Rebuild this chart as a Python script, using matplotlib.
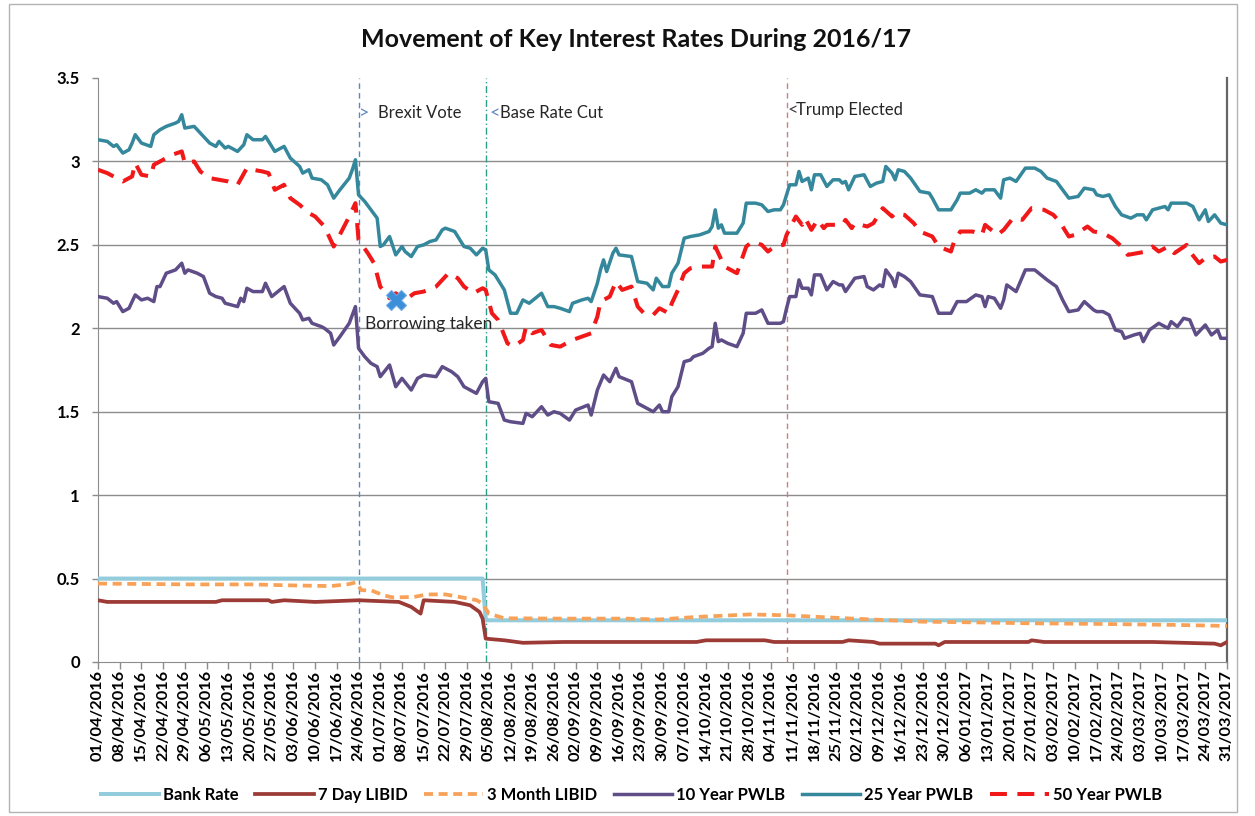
import pandas as pd
import matplotlib.pyplot as plt
import matplotlib.dates as mdates
from matplotlib.patches import Rectangle

plt.rcParams['font.family'] = ['Lato', 'DejaVu Sans']

START = pd.Timestamp('2016-04-01')
END = pd.Timestamp('2017-03-31')

# days counted from 01/04/2016
bank_days = [0, 124, 125, 364]
bank_rate = [0.5, 0.5, 0.25, 0.25]

libid7_days = [0, 3, 10, 38, 40, 45, 55, 56, 60, 70, 84, 97, 101, 104, 105, 115,
               120, 123, 124, 125, 131, 137, 150, 184, 193, 196, 215, 218, 240,
               242, 250, 252, 270, 271, 273, 300, 301, 305, 340, 360, 362, 364]
libid7 = [0.37, 0.36, 0.36, 0.36, 0.37, 0.37, 0.37, 0.36, 0.37, 0.36, 0.37, 0.36,
          0.33, 0.29, 0.37, 0.36, 0.34, 0.30, 0.26, 0.14, 0.13, 0.115, 0.12, 0.12,
          0.12, 0.13, 0.13, 0.12, 0.12, 0.13, 0.12, 0.11, 0.11, 0.10, 0.12, 0.12,
          0.13, 0.12, 0.12, 0.11, 0.10, 0.12]

libid3m_days = [0, 30, 50, 60, 75, 81, 83, 85, 88, 92, 95, 102, 106, 112, 115,
                122, 124, 126, 131, 150, 170, 181, 193, 210, 222, 241, 253, 265,
                288, 300, 324, 348, 364]
libid3m = [0.47, 0.465, 0.465, 0.46, 0.455, 0.467, 0.477, 0.43, 0.43, 0.40, 0.387,
           0.39, 0.405, 0.405, 0.395, 0.371, 0.35, 0.29, 0.262, 0.26, 0.26, 0.255,
           0.27, 0.285, 0.28, 0.262, 0.252, 0.242, 0.236, 0.232, 0.228, 0.222, 0.216]

pwlb10_days = [0, 3, 5, 6, 8, 10, 12, 14, 16, 18, 19, 20, 22, 25, 27, 28, 29, 32,
               34, 36, 38, 40, 41, 45, 46, 47, 48, 50, 53, 54, 56, 60, 62, 65, 66,
               68, 69, 72, 73, 75, 76, 78, 81, 82, 83, 84, 86, 88, 90, 91, 94, 96,
               98, 101, 103, 105, 109, 111, 114, 116, 118, 122, 124, 125, 126, 129,
               131, 133, 137, 138, 140, 143, 145, 147, 149, 152, 154, 158, 159, 161,
               163, 165, 167, 168, 172, 174, 177, 179, 181, 182, 184, 185, 187, 189,
               191, 192, 195, 197, 198, 199, 200, 201, 203, 206, 208, 209, 212, 214,
               216, 218, 220, 221, 222, 223, 225, 226, 227, 229, 230, 231, 233, 235,
               237, 239, 240, 241, 244, 247, 248, 250, 252, 253, 254, 256, 257, 258,
               260, 262, 265, 269, 271, 275, 277, 280, 283, 285, 286, 287, 289, 291,
               292, 293, 296, 299, 302, 304, 306, 309, 311, 313, 316, 318, 321, 322,
               324, 326, 328, 330, 331, 334, 336, 337, 339, 342, 345, 346, 348, 350,
               352, 354, 357, 359, 361, 362, 364]
pwlb10 = [2.19, 2.18, 2.15, 2.16, 2.10, 2.12, 2.20, 2.17, 2.18, 2.16, 2.25, 2.25,
          2.33, 2.35, 2.39, 2.33, 2.35, 2.33, 2.31, 2.21, 2.19, 2.18, 2.15, 2.13,
          2.18, 2.16, 2.24, 2.22, 2.22, 2.27, 2.19, 2.25, 2.15, 2.09, 2.05, 2.06,
          2.03, 2.01, 2.00, 1.97, 1.90, 1.95, 2.03, 2.08, 2.13, 1.88, 1.83, 1.79,
          1.77, 1.71, 1.78, 1.65, 1.70, 1.63, 1.70, 1.72, 1.71, 1.77, 1.74, 1.71,
          1.65, 1.61, 1.68, 1.70, 1.56, 1.55, 1.45, 1.44, 1.43, 1.49, 1.47, 1.53,
          1.48, 1.50, 1.49, 1.45, 1.51, 1.54, 1.48, 1.63, 1.72, 1.68, 1.76, 1.71,
          1.68, 1.55, 1.52, 1.50, 1.54, 1.50, 1.50, 1.59, 1.65, 1.80, 1.81, 1.83,
          1.85, 1.88, 1.89, 2.03, 1.92, 1.93, 1.91, 1.89, 1.97, 2.09, 2.09, 2.11,
          2.03, 2.03, 2.03, 2.04, 2.12, 2.19, 2.19, 2.29, 2.24, 2.24, 2.20, 2.32,
          2.32, 2.23, 2.28, 2.26, 2.26, 2.22, 2.30, 2.31, 2.25, 2.23, 2.26, 2.25,
          2.35, 2.30, 2.25, 2.33, 2.31, 2.28, 2.20, 2.19, 2.09, 2.09, 2.16, 2.16,
          2.20, 2.19, 2.13, 2.19, 2.18, 2.12, 2.17, 2.26, 2.22, 2.35, 2.35, 2.32,
          2.29, 2.25, 2.17, 2.10, 2.11, 2.16, 2.11, 2.10, 2.10, 2.08, 1.99, 1.98,
          1.94, 1.96, 1.97, 1.92, 1.99, 2.03, 2.00, 2.04, 2.01, 2.06, 2.05, 1.96,
          2.02, 1.96, 1.99, 1.94, 1.94]

pwlb25_days = [0, 3, 5, 6, 8, 10, 11, 12, 14, 17, 18, 20, 22, 25, 26, 27, 28, 31,
               33, 36, 38, 39, 41, 42, 45, 47, 48, 50, 53, 54, 57, 60, 62, 65, 66,
               68, 69, 72, 74, 76, 78, 81, 82, 83, 84, 86, 88, 90, 91, 92, 94, 96,
               98, 99, 101, 103, 105, 107, 109, 111, 112, 115, 117, 118, 120, 122,
               124, 125, 126, 128, 131, 133, 135, 137, 139, 143, 145, 147, 149, 152,
               153, 156, 158, 159, 161, 162, 163, 164, 166, 167, 168, 172, 174, 177,
               179, 180, 182, 184, 185, 187, 189, 191, 194, 197, 198, 199, 200, 201,
               202, 206, 208, 209, 212, 214, 216, 218, 220, 221, 222, 223, 225, 226,
               227, 229, 230, 231, 233, 235, 237, 239, 240, 241, 242, 244, 247, 249,
               251, 253, 254, 256, 257, 258, 260, 262, 265, 268, 269, 271, 275, 277,
               278, 281, 283, 285, 286, 289, 291, 292, 294, 296, 299, 302, 304, 306,
               309, 311, 313, 316, 318, 321, 322, 324, 326, 328, 330, 333, 335, 337,
               338, 340, 342, 344, 345, 346, 348, 351, 353, 355, 357, 358, 360, 362,
               364]
pwlb25 = [3.13, 3.12, 3.09, 3.10, 3.05, 3.07, 3.11, 3.16, 3.11, 3.09, 3.16, 3.19,
          3.21, 3.23, 3.24, 3.28, 3.20, 3.21, 3.17, 3.11, 3.09, 3.12, 3.08, 3.09,
          3.06, 3.10, 3.16, 3.13, 3.13, 3.15, 3.06, 3.09, 3.02, 2.97, 2.93, 2.95,
          2.90, 2.89, 2.86, 2.78, 2.83, 2.90, 2.95, 3.01, 2.80, 2.76, 2.71, 2.66,
          2.49, 2.50, 2.55, 2.44, 2.49, 2.46, 2.43, 2.49, 2.50, 2.52, 2.53, 2.59,
          2.60, 2.58, 2.52, 2.49, 2.48, 2.44, 2.48, 2.47, 2.35, 2.32, 2.23, 2.09,
          2.09, 2.17, 2.15, 2.21, 2.13, 2.13, 2.12, 2.10, 2.15, 2.17, 2.18, 2.16,
          2.27, 2.35, 2.41, 2.34, 2.45, 2.48, 2.44, 2.43, 2.28, 2.27, 2.23, 2.30,
          2.25, 2.25, 2.33, 2.39, 2.54, 2.55, 2.56, 2.58, 2.61, 2.71, 2.60, 2.62,
          2.57, 2.57, 2.63, 2.75, 2.75, 2.74, 2.70, 2.71, 2.71, 2.74, 2.80, 2.86,
          2.86, 2.94, 2.88, 2.90, 2.83, 2.92, 2.92, 2.85, 2.89, 2.89, 2.87, 2.88,
          2.83, 2.91, 2.92, 2.85, 2.87, 2.88, 2.97, 2.93, 2.89, 2.95, 2.94, 2.90,
          2.82, 2.81, 2.78, 2.71, 2.71, 2.77, 2.81, 2.81, 2.83, 2.81, 2.83, 2.83,
          2.78, 2.89, 2.90, 2.88, 2.96, 2.96, 2.94, 2.90, 2.88, 2.83, 2.78, 2.79,
          2.84, 2.83, 2.80, 2.79, 2.80, 2.73, 2.68, 2.66, 2.68, 2.68, 2.65, 2.71,
          2.72, 2.73, 2.71, 2.75, 2.75, 2.75, 2.73, 2.65, 2.71, 2.64, 2.68, 2.63,
          2.62]

pwlb50_days = [0, 3, 8, 11, 12, 14, 17, 18, 21, 24, 27, 28, 31, 33, 36, 39, 42, 45,
               48, 50, 53, 55, 57, 60, 62, 65, 68, 70, 73, 76, 81, 83, 84, 87, 89,
               91, 94, 96, 99, 102, 105, 109, 113, 116, 118, 121, 124, 125, 127, 129,
               132, 134, 137, 138, 140, 143, 146, 149, 153, 156, 159, 161, 162, 165,
               167, 169, 172, 174, 176, 179, 181, 184, 185, 187, 189, 191, 194, 198,
               199, 202, 204, 206, 209, 211, 214, 216, 218, 221, 222, 225, 227, 228,
               230, 232, 234, 235, 240, 241, 243, 244, 248, 250, 253, 256, 257, 260,
               263, 265, 269, 271, 275, 276, 278, 282, 285, 286, 290, 292, 295, 298,
               301, 305, 308, 310, 313, 315, 319, 321, 324, 327, 330, 332, 335, 338,
               340, 342, 345, 347, 351, 352, 355, 357, 360, 362, 364]
pwlb50 = [2.95, 2.93, 2.88, 2.91, 2.99, 2.92, 2.91, 2.98, 3.01, 3.04, 3.06, 2.99,
          3.00, 2.94, 2.90, 2.89, 2.88, 2.86, 2.96, 2.95, 2.94, 2.93, 2.83, 2.86,
          2.78, 2.74, 2.69, 2.67, 2.61, 2.49, 2.67, 2.75, 2.53, 2.45, 2.39, 2.25,
          2.18, 2.21, 2.17, 2.21, 2.22, 2.25, 2.33, 2.30, 2.25, 2.21, 2.24, 2.23,
          2.09, 2.05, 1.91, 1.89, 1.93, 2.01, 1.97, 1.99, 1.90, 1.89, 1.93, 1.95,
          1.97, 2.07, 2.16, 2.19, 2.28, 2.23, 2.25, 2.13, 2.09, 2.08, 2.12, 2.09,
          2.15, 2.23, 2.33, 2.36, 2.37, 2.37, 2.49, 2.37, 2.35, 2.33, 2.49, 2.52,
          2.50, 2.46, 2.49, 2.50, 2.56, 2.67, 2.62, 2.66, 2.59, 2.65, 2.60, 2.62,
          2.62, 2.65, 2.60, 2.63, 2.61, 2.63, 2.72, 2.67, 2.69, 2.68, 2.63, 2.58,
          2.55, 2.49, 2.46, 2.52, 2.58, 2.58, 2.56, 2.62, 2.56, 2.59, 2.66, 2.65,
          2.72, 2.71, 2.68, 2.64, 2.55, 2.56, 2.61, 2.58, 2.57, 2.54, 2.49, 2.44,
          2.45, 2.46, 2.49, 2.46, 2.49, 2.45, 2.50, 2.46, 2.39, 2.42, 2.43, 2.40,
          2.41]

borrow_day = 96
borrow_rate = 2.17

events = [('2016-06-24', '>', 'Brexit Vote'),
          ('2016-08-04', '<', 'Base Rate Cut'),
          ('2016-11-09', '<', 'Trump Elected')]


def to_dates(days):
    return START + pd.to_timedelta(days, unit='D')


fig = plt.figure(figsize=(12.55, 8.16), dpi=100)
ax = fig.add_axes([98 / 1255, 154 / 816, 1129 / 1255, 584 / 816])

# horizontal gridlines
for v in [0.5, 1, 1.5, 2, 2.5, 3]:
    ax.axhline(v, color='#8c8c8c', lw=1, zorder=0)

# event markers
ax.axvline(pd.Timestamp(events[0][0]), color='#5b86c0', lw=1, ls=(0, (4, 3)), zorder=1)
ax.axvline(pd.Timestamp(events[1][0]), color='#2e9e8c', lw=1, ls=(0, (5, 2, 1, 2)), zorder=1)
ax.axvline(pd.Timestamp(events[2][0]), color='#c98080', lw=1, ls=(0, (4, 3)), zorder=1)

series = [
    (bank_days, bank_rate, 'Bank Rate', '#93cddd', '-', 2.9),
    (libid7_days, libid7, '7 Day LIBID', '#9c3a36', '-', 2.7),
    (libid3m_days, libid3m, '3 Month LIBID', '#f8a158', (0, (2.4, 1.5)), 2.7),
    (pwlb10_days, pwlb10, '10 Year PWLB', '#5f4d87', '-', 2.5),
    (pwlb25_days, pwlb25, '25 Year PWLB', '#35889c', '-', 2.5),
    (pwlb50_days, pwlb50, '50 Year PWLB', '#f01818', (0, (4.2, 2.6)), 2.9),
]
handles = []
for days, vals, name, col, style, lw in series:
    h, = ax.plot(to_dates(days), vals, color=col, ls=style, lw=lw,
                 label=name, solid_joinstyle='round', zorder=3)
    handles.append(h)

# borrowing point
bdate = to_dates([borrow_day])[0]
ax.plot(bdate, borrow_rate, marker='X', ms=15, color='#3d8ed8',
        mec='#6aaae6', mew=0.8, zorder=5)
ax.annotate('Borrowing taken', (bdate, borrow_rate), xytext=(-22, -17),
            textcoords='offset points', fontsize=12.5, color='#262626',
            ha='left', va='center', zorder=6)

# event labels
offsets = [(0, 14), (3, 10), (1, 7)]
heights = [3.29, 3.29, 3.31]
arrow_cols = ['#5b86c0', '#5b86c0', '#404040']
for (d, arrow, txt), (o1, o2), y, acol in zip(events, offsets, heights, arrow_cols):
    x = pd.Timestamp(d)
    ax.annotate(arrow, (x, y), xytext=(o1, 0), textcoords='offset points',
                fontsize=13, color=acol, ha='left', va='center')
    ax.annotate(txt, (x, y), xytext=(o2, 0), textcoords='offset points',
                fontsize=12, color='#262626', ha='left', va='center')

# axes formatting
ax.set_xlim(START, END)
ax.set_ylim(0, 3.5)
ax.set_yticks([0, 0.5, 1, 1.5, 2, 2.5, 3, 3.5])
ax.set_yticklabels(['0', '0.5', '1', '1.5', '2', '2.5', '3', '3.5'],
                   fontsize=12, fontweight='bold')
ax.set_xticks(pd.date_range(START, END, freq='7D'))
ax.xaxis.set_major_formatter(mdates.DateFormatter('%d/%m/%Y'))
ax.tick_params(axis='x', labelrotation=90, labelsize=11.8, length=5, width=1,
               color='#8c8c8c', pad=1)
ax.tick_params(axis='y', length=4, width=1, color='#8c8c8c', pad=9)
for lab in ax.get_xticklabels():
    lab.set_fontweight('bold')
ax.spines['top'].set_visible(False)
ax.spines['left'].set_color('#8c8c8c')
ax.spines['bottom'].set_color('#8c8c8c')
ax.spines['right'].set_color('#666666')
ax.spines['right'].set_linewidth(1.6)

fig.text(0.507, 0.951, 'Movement of Key Interest Rates During 2016/17',
         ha='center', va='center', fontsize=18, fontweight='bold', color='#111111')

fig.legend(handles=handles, loc='center', bbox_to_anchor=(0.503, 0.026),
           ncol=6, frameon=False, handlelength=3.5, handletextpad=0.25,
           columnspacing=1.0, prop={'weight': 'bold', 'size': 12})

# chart area border
fig.patches.append(Rectangle((9 / 1255, 4 / 816), 1228 / 1255, 808 / 816,
                             transform=fig.transFigure, fill=False,
                             ec='#b3b3b3', lw=1))

fig.savefig('out.png', dpi=100)
